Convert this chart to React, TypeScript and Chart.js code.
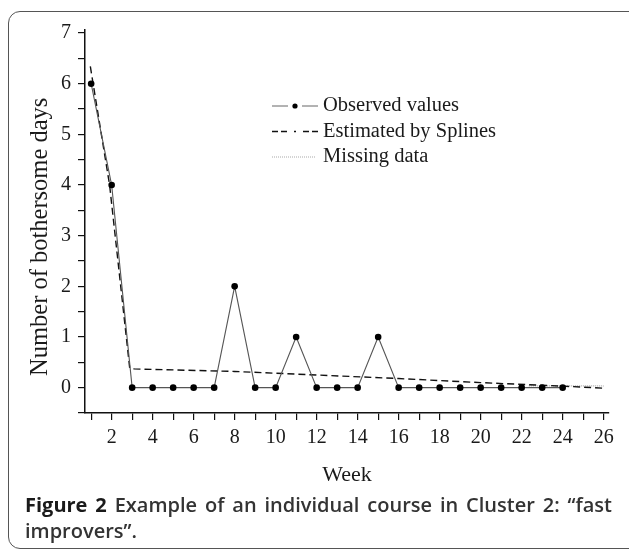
import React, { useEffect, useRef } from 'react';
import { Chart, registerables } from 'chart.js';

Chart.register(...registerables);

const weeks = [1, 2, 3, 4, 5, 6, 7, 8, 9, 10, 11, 12, 13, 14, 15, 16, 17, 18, 19, 20, 21, 22, 23, 24];
const observedValues = [6, 4, 0, 0, 0, 0, 0, 2, 0, 0, 1, 0, 0, 0, 1, 0, 0, 0, 0, 0, 0, 0, 0, 0];
const splineWeeks = [0.96, 1.9, 2.88, 3.1, 8, 12, 16, 20, 24, 26];
const splineValues = [6.34, 4.0, 0.39, 0.37, 0.32, 0.25, 0.18, 0.1, 0.03, -0.01];
const missingWeeks = [22.35, 26];
const missingValues = [0.035, 0.035];
const xTickLabels = [2, 4, 6, 8, 10, 12, 14, 16, 18, 20, 22, 24, 26];
const yTickLabels = [0, 1, 2, 3, 4, 5, 6, 7];
const legendLabels = ['Observed values', 'Estimated by Splines', 'Missing data'];

const SERIF = '"Liberation Serif", "DejaVu Serif", serif';

const legendPlugin = {
  id: 'customLegend',
  afterDraw(chart: any) {
    const ctx = chart.ctx as CanvasRenderingContext2D;
    const area = chart.chartArea;
    const x0 = area.left + 187;
    const y0 = area.top + 76;
    const gap = 25.5;
    ctx.save();
    let y = y0;
    ctx.strokeStyle = '#666';
    ctx.lineWidth = 1;
    ctx.setLineDash([]);
    ctx.beginPath();
    ctx.moveTo(x0, y); ctx.lineTo(x0 + 16, y);
    ctx.moveTo(x0 + 30, y); ctx.lineTo(x0 + 46, y);
    ctx.stroke();
    ctx.fillStyle = '#000';
    ctx.beginPath();
    ctx.arc(x0 + 23, y, 2.6, 0, Math.PI * 2);
    ctx.fill();
    y = y0 + gap;
    ctx.strokeStyle = '#111';
    ctx.lineWidth = 1.3;
    ctx.beginPath();
    ctx.moveTo(x0, y); ctx.lineTo(x0 + 6, y);
    ctx.moveTo(x0 + 9, y); ctx.lineTo(x0 + 15, y);
    ctx.moveTo(x0 + 22, y); ctx.lineTo(x0 + 24, y);
    ctx.moveTo(x0 + 31, y); ctx.lineTo(x0 + 37, y);
    ctx.moveTo(x0 + 40, y); ctx.lineTo(x0 + 46, y);
    ctx.stroke();
    y = y0 + gap * 2;
    ctx.strokeStyle = '#aaa';
    ctx.lineWidth = 1;
    ctx.setLineDash([1, 1]);
    ctx.beginPath();
    ctx.moveTo(x0, y); ctx.lineTo(x0 + 44, y);
    ctx.stroke();
    ctx.setLineDash([]);
    ctx.fillStyle = '#1a1a1a';
    ctx.font = `20.5px ${SERIF}`;
    ctx.textBaseline = 'middle';
    ctx.textAlign = 'left';
    legendLabels.forEach((t, i) => {
      ctx.fillText(t, x0 + 51, y0 + gap * i);
    });
    ctx.restore();
  },
};

export default function App() {
  const canvasRef = useRef<HTMLCanvasElement | null>(null);

  useEffect(() => {
    const canvas = canvasRef.current;
    if (!canvas) return;
    const chart = new Chart(canvas, {
      type: 'line',
      data: {
        datasets: [
          {
            label: legendLabels[0],
            data: weeks.map((w, i) => ({ x: w, y: observedValues[i] })),
            borderColor: '#555',
            borderWidth: 1.1,
            pointRadius: 3.3,
            pointBackgroundColor: '#000',
            pointBorderColor: '#000',
            pointBorderWidth: 0,
            tension: 0,
            order: 1,
          },
          {
            label: legendLabels[1],
            data: splineWeeks.map((w, i) => ({ x: w, y: splineValues[i] })),
            borderColor: '#111',
            borderWidth: 1.4,
            borderDash: [7, 4],
            pointRadius: 0,
            tension: 0,
            order: 2,
          },
          {
            label: legendLabels[2],
            data: missingWeeks.map((w, i) => ({ x: w, y: missingValues[i] })),
            borderColor: '#999',
            borderWidth: 1,
            borderDash: [1, 1],
            pointRadius: 0,
            order: 3,
          },
        ],
      },
      options: {
        animation: false,
        responsive: false,
        maintainAspectRatio: false,
        layout: { padding: { left: 0, right: 20, top: 30, bottom: 0 } },
        plugins: {
          legend: { display: false },
          tooltip: { enabled: false },
        },
        scales: {
          x: {
            type: 'linear',
            min: 0.7,
            max: 26.26,
            afterFit: (s: any) => { s.height = 82; },
            border: { display: true, color: '#111', width: 1.5 },
            grid: { display: true, drawOnChartArea: false, drawTicks: true, tickLength: 7, color: '#111', lineWidth: 1.2 },
            ticks: {
              stepSize: 1,
              includeBounds: false,
              autoSkip: false,
              maxRotation: 0,
              padding: 6,
              color: '#1a1a1a',
              font: { family: SERIF, size: 20 },
              callback: (v: any) => (xTickLabels.includes(Number(v)) ? String(v) : ''),
            },
            title: {
              display: true,
              text: 'Week',
              color: '#1a1a1a',
              font: { family: SERIF, size: 22 },
              padding: { top: 0, bottom: 7 },
            },
          },
          y: {
            type: 'linear',
            min: -0.5,
            max: 7.06,
            afterFit: (s: any) => { s.width = 85; },
            border: { display: true, color: '#111', width: 1.5 },
            grid: { display: true, drawOnChartArea: false, drawTicks: true, tickLength: 7, color: '#111', lineWidth: 1.2 },
            ticks: {
              stepSize: 0.5,
              includeBounds: false,
              autoSkip: false,
              padding: 7,
              color: '#1a1a1a',
              font: { family: SERIF, size: 20 },
              callback: (v: any) => (yTickLabels.includes(Number(v)) ? String(v) : ''),
            },
            title: {
              display: true,
              text: 'Number of bothersome days\u00a0\u00a0\u00a0\u00a0\u00a0',
              color: '#1a1a1a',
              font: { family: SERIF, size: 24.5 },
              padding: { top: 26, bottom: 0 },
            },
          },
        },
      },
      plugins: [legendPlugin],
    });
    return () => chart.destroy();
  }, []);

  return (
    <div style={{ position: 'fixed', left: 0, top: 0, width: 629, height: 550, overflow: 'hidden', background: '#fff' }}>
      <div
        style={{
          position: 'absolute',
          left: 8,
          top: 11,
          width: 660,
          height: 536,
          border: '1.5px solid #555',
          borderRadius: 12,
        }}
      />
      <canvas ref={canvasRef} width={629} height={495} style={{ position: 'absolute', left: 0, top: 0, display: 'block' }} />
      <div
        style={{
          position: 'absolute',
          left: 25,
          top: 492,
          width: 587,
          fontFamily: '"Open Sans", "Noto Sans", sans-serif',
          fontSize: 20,
          lineHeight: '26px',
          textAlign: 'justify',
          color: '#333',
          fontWeight: 600,
        }}
      >
        <span style={{ fontWeight: 700, color: '#1a1a1a' }}>Figure 2</span> Example of an individual course in Cluster 2: “fast improvers”.
      </div>
    </div>
  );
}
